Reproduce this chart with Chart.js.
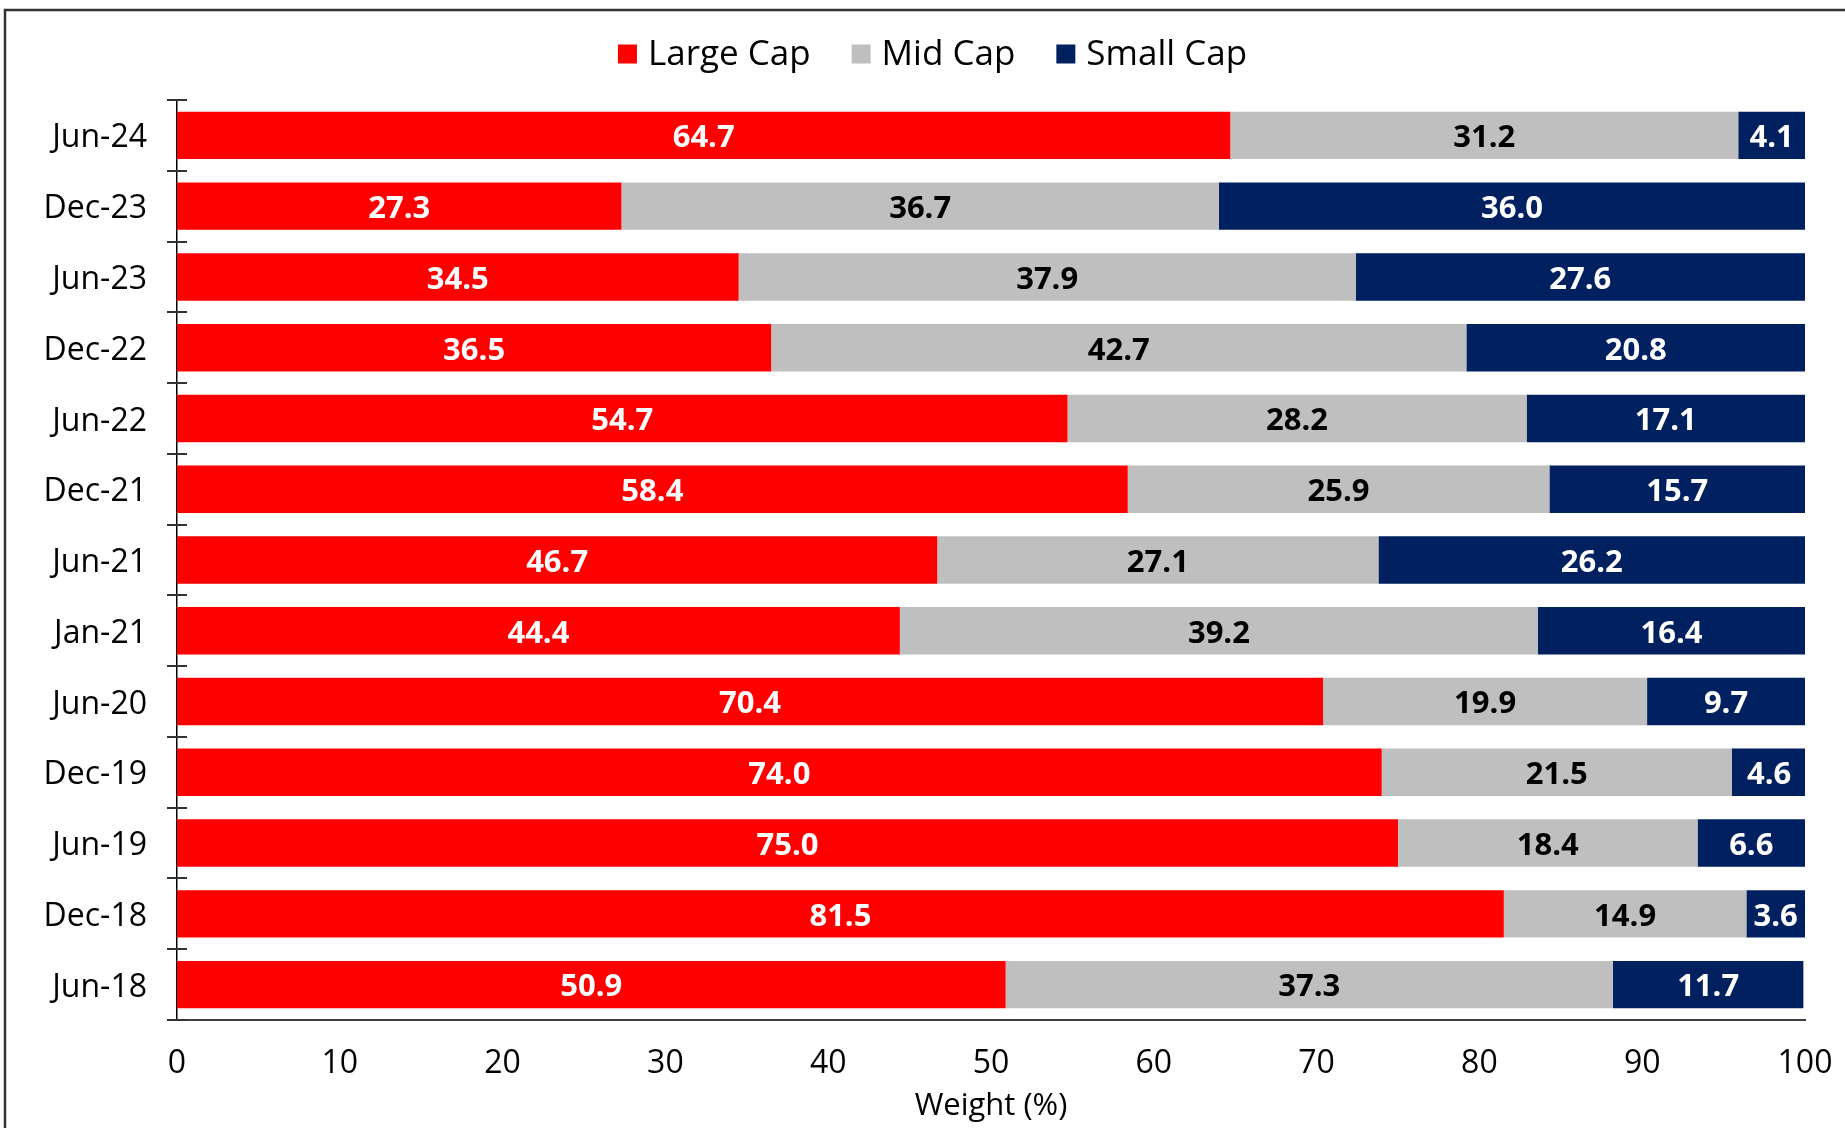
<!DOCTYPE html>
<html>
<head>
<meta charset="utf-8">
<script src="https://cdn.jsdelivr.net/npm/chart.js@4.4.1/dist/chart.umd.min.js"></script>
<style>
  html, body { margin: 0; padding: 0; background: #fff; }
</style>
</head>
<body>
<canvas id="myChart" width="1845" height="1128"></canvas>
<script>
const categories = ['Jun-24', 'Dec-23', 'Jun-23', 'Dec-22', 'Jun-22', 'Dec-21', 'Jun-21',
  'Jan-21', 'Jun-20', 'Dec-19', 'Jun-19', 'Dec-18', 'Jun-18'];
const largeCap = [64.7, 27.3, 34.5, 36.5, 54.7, 58.4, 46.7, 44.4, 70.4, 74.0, 75.0, 81.5, 50.9];
const midCap = [31.2, 36.7, 37.9, 42.7, 28.2, 25.9, 27.1, 39.2, 19.9, 21.5, 18.4, 14.9, 37.3];
const smallCap = [4.1, 36.0, 27.6, 20.8, 17.1, 15.7, 26.2, 16.4, 9.7, 4.6, 6.6, 3.6, 11.7];

const FONT = '"Open Sans", sans-serif';

// white page + the cut-off frame around it
const frame = {
  id: 'frame',
  beforeDraw(chart) {
    const ctx = chart.ctx;
    ctx.save();
    ctx.fillStyle = '#fff';
    ctx.fillRect(0, 0, chart.width, chart.height);
    ctx.strokeStyle = '#333';
    ctx.lineWidth = 2.5;
    ctx.beginPath();
    ctx.moveTo(5, chart.height);
    ctx.lineTo(5, 10);
    ctx.lineTo(chart.width, 10);
    ctx.stroke();
    ctx.restore();
  }
};

// tick marks crossing the category axis between the bars
const catTicks = {
  id: 'catTicks',
  afterDraw(chart) {
    const ctx = chart.ctx;
    const y = chart.scales.y;
    const left = chart.chartArea.left;
    ctx.save();
    ctx.strokeStyle = '#333';
    ctx.lineWidth = 2;
    for (let i = 0; i <= categories.length; i++) {
      const py = Math.round(y.getPixelForValue(i - 0.5));
      ctx.beginPath();
      ctx.moveTo(left - 10, py);
      ctx.lineTo(left + 10, py);
      ctx.stroke();
    }
    ctx.restore();
  }
};

// value written in the middle of each segment
const barLabels = {
  id: 'barLabels',
  afterDatasetsDraw(chart) {
    const ctx = chart.ctx;
    ctx.save();
    ctx.font = 'bold 31px ' + FONT;
    ctx.textAlign = 'center';
    ctx.textBaseline = 'middle';
    chart.data.datasets.forEach((ds, di) => {
      chart.getDatasetMeta(di).data.forEach((bar, i) => {
        ctx.fillStyle = ds.labelColor;
        ctx.fillText(ds.data[i].toFixed(1), (bar.x + bar.base) / 2, bar.y + 3);
      });
    });
    ctx.restore();
  }
};

const capLegend = {
  id: 'capLegend',
  afterDraw(chart) {
    const ctx = chart.ctx;
    ctx.save();
    ctx.font = '35px ' + FONT;
    ctx.textAlign = 'left';
    ctx.textBaseline = 'middle';
    const box = 19, gap = 11, space = 41, cy = 54;
    const items = chart.data.datasets.map(ds => ({
      text: ds.label, color: ds.backgroundColor, w: ctx.measureText(ds.label).width
    }));
    const total = items.reduce((s, it) => s + box + gap + it.w, 0) + space * (items.length - 1);
    let x = chart.width / 2 + 10 - total / 2;
    items.forEach(it => {
      ctx.fillStyle = it.color;
      ctx.fillRect(x, cy - box / 2, box, box);
      ctx.fillStyle = '#000';
      ctx.fillText(it.text, x + box + gap, cy + 1);
      x += box + gap + it.w + space;
    });
    ctx.restore();
  }
};

new Chart(document.getElementById('myChart'), {
  type: 'bar',
  data: {
    labels: categories,
    datasets: [
      { label: 'Large Cap', data: largeCap, backgroundColor: '#ff0000', labelColor: '#fff' },
      { label: 'Mid Cap', data: midCap, backgroundColor: '#bfbfbf', labelColor: '#000' },
      { label: 'Small Cap', data: smallCap, backgroundColor: '#002060', labelColor: '#fff' }
    ]
  },
  options: {
    responsive: false,
    animation: false,
    indexAxis: 'y',
    barPercentage: 0.67,
    categoryPercentage: 1.0,
    layout: { padding: { top: 100, right: 40, left: 0, bottom: 3 } },
    plugins: {
      legend: { display: false },
      tooltip: { enabled: false }
    },
    scales: {
      x: {
        stacked: true,
        min: 0,
        max: 100,
        afterFit: (scale) => {
          scale.height = 105;
          scale.paddingLeft = 0;
          scale.paddingRight = 0;
        },
        ticks: { stepSize: 10, color: '#000', font: { family: FONT, size: 32 }, padding: 25 },
        grid: { display: false, drawTicks: false },
        border: { display: true, color: '#404040', width: 2 },
        title: {
          display: true, text: 'Weight (%)', color: '#000',
          font: { family: FONT, size: 31 }, padding: { top: 6, bottom: 0 }
        }
      },
      y: {
        stacked: true,
        afterFit: (scale) => { scale.width = 177; },
        grid: { display: false, drawTicks: false },
        border: { display: true, color: '#000', width: 1.5 },
        ticks: { color: '#000', font: { family: FONT, size: 32 }, padding: 30, labelOffset: 3 }
      }
    }
  },
  plugins: [frame, barLabels, catTicks, capLegend]
});
</script>
</body>
</html>
